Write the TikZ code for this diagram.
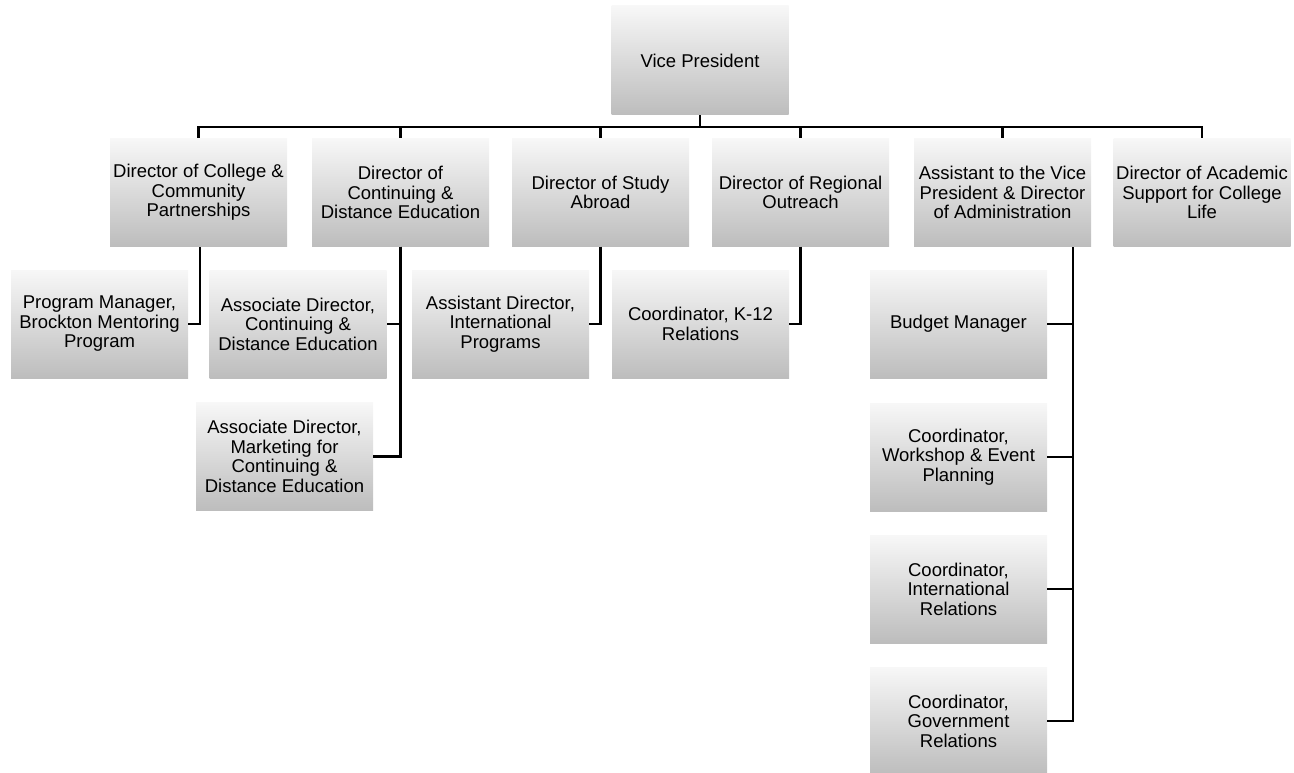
\documentclass[tikz,border=0pt]{standalone}
\usepackage{fontspec}
\setmainfont{Liberation Sans}
\begin{document}
\begin{tikzpicture}[x=1pt,y=-1pt,
  box/.style={rectangle, minimum width=177pt, minimum height=108pt, inner sep=0pt,
    top color=black!3, bottom color=black!26, align=center,
    font=\fontsize{18.5}{19.5}\selectfont},
  link/.style={draw=black, line width=2.5pt}]
\useasboundingbox (0,0) rectangle (1294,773);
% top
\node[box, minimum height=109pt] (vp) at (700,60.5) {Vice President};
% second row
\node[box] (b1) at (198.5,192.5) {Director of College \&\\Community\\Partnerships};
\node[box] (b2) at (400.5,192.5) {Director of\\Continuing \&\\Distance Education};
\node[box] (b3) at (600.5,192.5) {Director of Study\\Abroad};
\node[box] (b4) at (800.5,192.5) {Director of Regional\\Outreach};
\node[box] (b5) at (1002.5,192.5) {Assistant to the Vice\\President \& Director\\of Administration};
\node[box] (b6) at (1202,192.5) {Director of Academic\\Support for College\\Life};
% third level
\node[box] (c1) at (99.5,324) {Program Manager,\\Brockton Mentoring\\Program};
\node[box] (c2) at (298,324) {Associate Director,\\Continuing \&\\Distance Education};
\node[box] (c3) at (284.5,456.5) {Associate Director,\\Marketing for\\Continuing \&\\Distance Education};
\node[box] (c4) at (500.5,324) {Assistant Director,\\International\\Programs};
\node[box] (c5) at (700.5,324) {Coordinator, K-12\\Relations};
\node[box] (d1) at (958.5,324) {Budget Manager};
\node[box] (d2) at (958.5,457) {Coordinator,\\Workshop \& Event\\Planning};
\node[box] (d3) at (958.5,589) {Coordinator,\\International\\Relations};
\node[box] (d4) at (958.5,721) {Coordinator,\\Government\\Relations};
% connectors
\coordinate (bar) at (700,127);
\draw[link] (vp.south) -- (bar);
\foreach \b in {b1,b2,b3,b4,b5,b6} \draw[link] (bar) -| (\b.north);
\coordinate (b1s) at (200,247);
\draw[link] (b1s) |- (c1.east);
\draw[link] (b2.south) |- (c2.east);
\draw[link] (b2.south) |- (c3.east);
\draw[link] (b3.south) |- (c4.east);
\draw[link] (b4.south) |- (c5.east);
\coordinate (b5s) at (1073,247);
\draw[link] (b5s) |- (d1.east);
\draw[link] (b5s) |- (d2.east);
\draw[link] (b5s) |- (d3.east);
\draw[link] (b5s) |- (d4.east);
\end{tikzpicture}
\end{document}
